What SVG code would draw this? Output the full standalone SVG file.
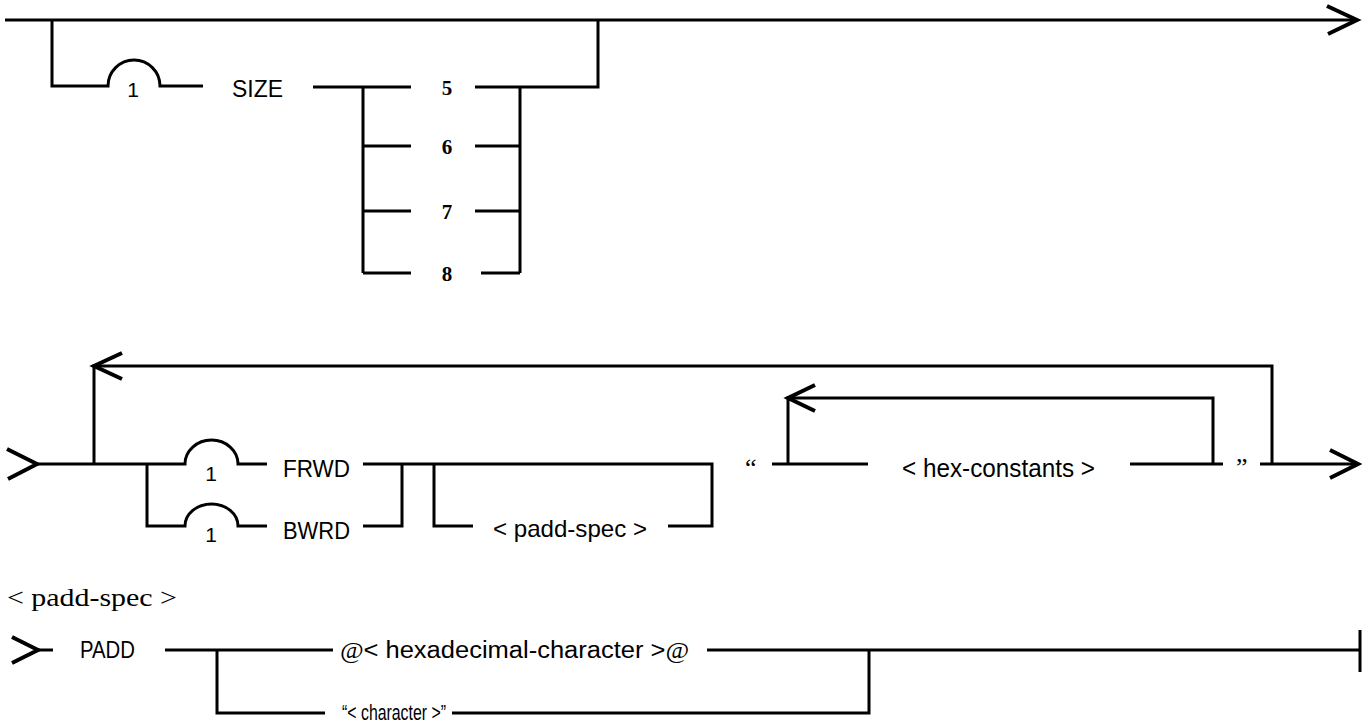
<svg xmlns="http://www.w3.org/2000/svg" width="1362" height="726" viewBox="0 0 1362 726">
<style>
.ln{fill:none;stroke:#000;stroke-width:3}
.ah{fill:none;stroke:#000;stroke-width:4}
.s{font-family:"Liberation Sans",Arial,sans-serif;fill:#000}
.n{font-family:"Liberation Sans Narrow","Liberation Sans",Arial,sans-serif;fill:#000}
.r{font-family:"Liberation Serif","Times New Roman",serif;fill:#000}
.d{font-family:"Liberation Serif","Times New Roman",serif;font-weight:bold;font-size:21px;text-anchor:middle;fill:#000}
</style>
<rect width="1362" height="726" fill="#fff"/>
<g id="connectors">
<path class="ln" d="M5,20 H1357"/>
<path class="ah" d="M1327,6 L1357,20 L1328,34"/>
<path class="ln" d="M52,20 V86 H108 A26,26 0 0 1 160,86 H203"/>
<path class="ln" d="M313,87 H411 M363,87 V273 M363,146 H411 M363,211 H411 M363,273 H411"/>
<path class="ln" d="M475,87 H598 V20 M520,87 V273 M475,146 H520 M475,211 H520 M481,273 H520"/>
<path class="ah" d="M7,449 L37,464 L8,479"/>
<path class="ln" d="M37,464 H185 A26.5,24 0 0 1 238,464 H267"/>
<path class="ln" d="M94,464 V366 H1272 V464"/>
<path class="ah" d="M122,353 L94,366 L122,379"/>
<path class="ln" d="M147,464 V526 H185 A26.5,22 0 0 1 238,526 H267"/>
<path class="ln" d="M363,464 H712 V526 H668 M363,526 H402 V464 M434,464 V526 H473"/>
<path class="ln" d="M772,464 H868 M788,464 V398 H1213 V464 M1130,464 H1223"/>
<path class="ah" d="M815,385 L788,398 L815,411"/>
<path class="ln" d="M1260,464 H1358"/>
<path class="ah" d="M1330,450 L1358,464 L1330,478"/>
<path class="ah" d="M12,637 L38,650 L12,663"/>
<path class="ln" d="M38,650 H53 M165,650 H333 M217,650 V713 H325 M452,713 H869 V650 M707,650 H1360 M1360,630 V672"/>
</g>
<g id="n-repeat1"><text class="s" x="133" y="97" font-size="21" text-anchor="middle">1</text></g>
<g id="n-size"><text class="s" x="232" y="97" font-size="23" textLength="51" lengthAdjust="spacingAndGlyphs">SIZE</text></g>
<g id="n-5"><text class="d" x="447" y="95">5</text></g>
<g id="n-6"><text class="d" x="447" y="154">6</text></g>
<g id="n-7"><text class="d" x="447" y="219">7</text></g>
<g id="n-8"><text class="d" x="447" y="281">8</text></g>
<g id="n-frwd1"><text class="s" x="211" y="481" font-size="21" text-anchor="middle">1</text></g>
<g id="n-frwd"><text class="s" x="283" y="477" font-size="23" textLength="67" lengthAdjust="spacingAndGlyphs">FRWD</text></g>
<g id="n-bwrd1"><text class="s" x="211" y="542" font-size="21" text-anchor="middle">1</text></g>
<g id="n-bwrd"><text class="s" x="283" y="539" font-size="23" textLength="67" lengthAdjust="spacingAndGlyphs">BWRD</text></g>
<g id="n-paddspec"><text class="n" x="493" y="537" font-size="24" textLength="154" lengthAdjust="spacingAndGlyphs">&lt; padd-spec &gt;</text></g>
<g id="n-openq"><text class="r" x="745" y="476" font-size="26">“</text></g>
<g id="n-hex"><text class="n" x="902" y="477" font-size="25" textLength="193" lengthAdjust="spacingAndGlyphs">&lt; hex-constants &gt;</text></g>
<g id="n-closeq"><text class="r" x="1236" y="476" font-size="26">”</text></g>
<g id="n-title"><text class="r" x="7" y="606" font-size="25" textLength="170" lengthAdjust="spacingAndGlyphs">&lt; padd-spec &gt;</text></g>
<g id="n-padd"><text class="s" x="80" y="658" font-size="23" textLength="55" lengthAdjust="spacingAndGlyphs">PADD</text></g>
<g id="n-hexchar"><text x="340" y="658" font-size="23" textLength="349" lengthAdjust="spacingAndGlyphs"><tspan class="r" font-style="italic">@</tspan><tspan class="n">&lt; hexadecimal-character &gt;</tspan><tspan class="r" font-style="italic">@</tspan></text></g>
<g id="n-char"><text class="n" x="342" y="720" font-size="22" textLength="104" lengthAdjust="spacingAndGlyphs">“&lt; character &gt;”</text></g>
</svg>
